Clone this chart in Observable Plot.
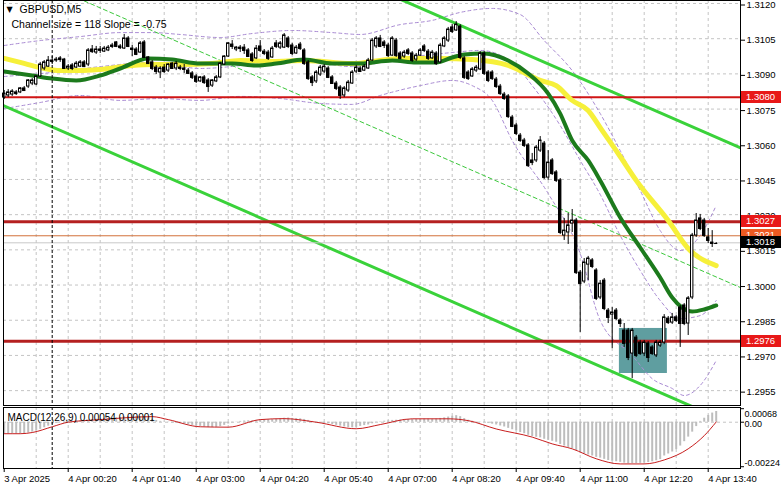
<!DOCTYPE html>
<html><head><meta charset="utf-8">
<script src="https://cdn.jsdelivr.net/npm/d3@7"></script>
<script src="https://cdn.jsdelivr.net/npm/@observablehq/plot@0.6"></script>
<style>
body{margin:0;background:#fff;}
#chart{width:781px;height:489px;overflow:hidden;background:#fff;}
#chart svg{display:block}
</style></head><body><div id="chart"></div>
<script>
const symbolTitle = "GBPUSD,M5";
const channelText = "Channel size = 118 Slope = -0.75";
const macdText = "MACD(12,26,9) 0.00054 0.00001";

const open = [1.30799,1.30808,1.30812,1.30821,1.30821,1.30838,1.30846,1.30859,1.30855,1.30889,1.30923,1.30931,1.30957,1.30957,1.30966,1.30961,1.30923,1.30936,1.30927,1.30931,1.30949,1.30940,1.31004,1.30991,1.31004,1.30995,1.31000,1.31021,1.31034,1.31017,1.31008,1.31051,1.31008,1.31004,1.30991,1.31034,1.30970,1.30949,1.30927,1.30906,1.30927,1.30914,1.30944,1.30923,1.30927,1.30923,1.30914,1.30902,1.30889,1.30868,1.30885,1.30872,1.30850,1.30868,1.30885,1.30940,1.30974,1.31025,1.31004,1.31012,1.31012,1.31000,1.30983,1.30966,1.31017,1.30995,1.30991,1.30970,1.31030,1.31012,1.31012,1.31051,1.31021,1.30987,1.31025,1.31000,1.30949,1.30885,1.30868,1.30897,1.30910,1.30923,1.30885,1.30859,1.30842,1.30808,1.30829,1.30859,1.30910,1.30923,1.30914,1.30923,1.30957,1.31017,1.31051,1.31034,1.31021,1.30978,1.31042,1.30987,1.30974,1.31000,1.30987,1.30961,1.30978,1.31017,1.30995,1.30966,1.30987,1.30949,1.31017,1.31042,1.31098,1.31085,1.31102,1.30966,1.30906,1.30889,1.30914,1.30919,1.30987,1.30906,1.30906,1.30876,1.30846,1.30812,1.30804,1.30714,1.30680,1.30637,1.30616,1.30595,1.30531,1.30531,1.30573,1.30603,1.30458,1.30531,1.30480,1.30446,1.30211,1.30224,1.30262,1.30275,1.30053,1.30015,1.30087,1.30105,1.30062,1.29947,1.30019,1.29891,1.29874,1.29891,1.29849,1.29806,1.29806,1.29708,1.29776,1.29755,1.29708,1.29751,1.29734,1.29700,1.29742,1.29755,1.29857,1.29840,1.29862,1.29904,1.29913,1.29836,1.29947,1.30211,1.30284,1.30275,1.30203,1.30181,1.30177];
const high = [1.30829,1.30833,1.30833,1.30829,1.30842,1.30846,1.30876,1.30880,1.30893,1.30949,1.30957,1.30974,1.30974,1.30970,1.30974,1.30966,1.30940,1.30944,1.30953,1.30957,1.30957,1.31008,1.31021,1.31017,1.31017,1.31017,1.31021,1.31030,1.31038,1.31025,1.31068,1.31059,1.31021,1.31012,1.31038,1.31042,1.30974,1.30957,1.30936,1.30931,1.30940,1.30944,1.30949,1.30953,1.30936,1.30940,1.30923,1.30910,1.30897,1.30889,1.30893,1.30880,1.30876,1.30893,1.30949,1.30978,1.31034,1.31042,1.31017,1.31021,1.31025,1.31008,1.30991,1.31021,1.31042,1.31004,1.31000,1.31017,1.31042,1.31038,1.31072,1.31059,1.31030,1.31021,1.31034,1.31008,1.30957,1.30893,1.30914,1.30936,1.30940,1.30931,1.30893,1.30868,1.30850,1.30846,1.30872,1.30914,1.30936,1.30931,1.30940,1.30966,1.31051,1.31059,1.31064,1.31042,1.31030,1.31059,1.31051,1.30995,1.31000,1.31008,1.30995,1.30987,1.31008,1.31025,1.31004,1.31000,1.30995,1.31030,1.31059,1.31098,1.31110,1.31123,1.31110,1.30974,1.30914,1.30927,1.30936,1.30995,1.30995,1.30914,1.30914,1.30885,1.30855,1.30821,1.30812,1.30723,1.30689,1.30646,1.30625,1.30603,1.30561,1.30595,1.30633,1.30612,1.30573,1.30539,1.30488,1.30454,1.30284,1.30305,1.30322,1.30284,1.30062,1.30113,1.30122,1.30113,1.30070,1.30019,1.30028,1.29900,1.29904,1.29900,1.29857,1.29836,1.29815,1.29815,1.29785,1.29764,1.29764,1.29759,1.29742,1.29764,1.29764,1.29874,1.29866,1.29879,1.29870,1.29913,1.29921,1.29951,1.30220,1.30305,1.30301,1.30284,1.30241,1.30232,1.30181];
const low = [1.30791,1.30799,1.30804,1.30808,1.30816,1.30825,1.30838,1.30850,1.30850,1.30885,1.30914,1.30927,1.30940,1.30949,1.30949,1.30919,1.30914,1.30914,1.30923,1.30927,1.30927,1.30931,1.30987,1.30983,1.30987,1.30991,1.30995,1.31008,1.31012,1.31004,1.31004,1.31012,1.30974,1.30978,1.30987,1.30966,1.30940,1.30914,1.30897,1.30880,1.30902,1.30906,1.30919,1.30914,1.30914,1.30902,1.30897,1.30876,1.30859,1.30863,1.30855,1.30821,1.30842,1.30863,1.30880,1.30936,1.30970,1.31004,1.30995,1.30991,1.30983,1.30970,1.30949,1.30961,1.30991,1.30978,1.30957,1.30966,1.31008,1.31004,1.31008,1.31008,1.30978,1.30983,1.31000,1.30936,1.30872,1.30846,1.30859,1.30889,1.30902,1.30880,1.30855,1.30829,1.30791,1.30799,1.30821,1.30855,1.30902,1.30906,1.30910,1.30919,1.30953,1.31008,1.31012,1.31008,1.30970,1.30974,1.30970,1.30961,1.30966,1.30978,1.30949,1.30953,1.30974,1.30991,1.30957,1.30961,1.30936,1.30944,1.31012,1.31034,1.31072,1.31081,1.30961,1.30876,1.30872,1.30885,1.30906,1.30914,1.30893,1.30863,1.30872,1.30838,1.30808,1.30787,1.30710,1.30671,1.30637,1.30608,1.30586,1.30501,1.30509,1.30522,1.30565,1.30450,1.30446,1.30467,1.30437,1.30215,1.30190,1.30173,1.30224,1.30045,1.29798,1.30006,1.30019,1.30070,1.29934,1.29938,1.29891,1.29836,1.29729,1.29849,1.29819,1.29734,1.29678,1.29601,1.29691,1.29700,1.29695,1.29670,1.29700,1.29691,1.29734,1.29746,1.29832,1.29832,1.29840,1.29734,1.29827,1.29785,1.29938,1.30203,1.30232,1.30203,1.30177,1.30160,1.30173];
const close = [1.30816,1.30821,1.30825,1.30816,1.30838,1.30829,1.30872,1.30872,1.30889,1.30940,1.30949,1.30957,1.30953,1.30961,1.30961,1.30923,1.30931,1.30923,1.30944,1.30949,1.30931,1.31000,1.30995,1.31004,1.31000,1.31008,1.31012,1.31017,1.31017,1.31012,1.31051,1.31017,1.31004,1.30983,1.31030,1.30970,1.30944,1.30923,1.30910,1.30923,1.30910,1.30940,1.30923,1.30944,1.30923,1.30919,1.30902,1.30885,1.30868,1.30885,1.30863,1.30846,1.30872,1.30885,1.30944,1.30974,1.31030,1.31017,1.31012,1.31008,1.31000,1.30974,1.30957,1.31008,1.31000,1.30987,1.30966,1.31008,1.31017,1.31030,1.31064,1.31017,1.30987,1.31012,1.31008,1.30944,1.30880,1.30863,1.30906,1.30927,1.30931,1.30885,1.30859,1.30838,1.30808,1.30838,1.30863,1.30906,1.30927,1.30910,1.30931,1.30957,1.31042,1.31051,1.31017,1.31021,1.30978,1.31051,1.30978,1.30966,1.30991,1.30987,1.30957,1.30978,1.31000,1.31000,1.30966,1.30991,1.30944,1.31021,1.31051,1.31089,1.31081,1.31110,1.30970,1.30885,1.30880,1.30919,1.30927,1.30987,1.30902,1.30872,1.30880,1.30846,1.30816,1.30795,1.30718,1.30676,1.30646,1.30616,1.30595,1.30509,1.30522,1.30586,1.30616,1.30458,1.30522,1.30475,1.30446,1.30224,1.30232,1.30254,1.30275,1.30053,1.30006,1.30096,1.30113,1.30079,1.29943,1.30006,1.29900,1.29862,1.29883,1.29857,1.29836,1.29751,1.29691,1.29806,1.29700,1.29708,1.29755,1.29691,1.29708,1.29755,1.29755,1.29862,1.29840,1.29862,1.29849,1.29836,1.29836,1.29943,1.30211,1.30275,1.30241,1.30211,1.30190,1.30177,1.30177];

const macd = [-0.00059,-0.00059,-0.00059,-0.00059,-0.00059,-0.00057,-0.00054,-0.00050,-0.00045,-0.00036,-0.00028,-0.00020,-0.00012,-0.00006,-0.00001,0.00002,0.00004,0.00005,0.00006,0.00007,0.00007,0.00010,0.00013,0.00015,0.00017,0.00018,0.00019,0.00021,0.00023,0.00024,0.00027,0.00029,0.00028,0.00027,0.00028,0.00027,0.00022,0.00015,0.00009,0.00004,0.00001,-0.00002,-0.00004,-0.00006,-0.00008,-0.00010,-0.00013,-0.00016,-0.00019,-0.00021,-0.00024,-0.00027,-0.00027,-0.00026,-0.00022,-0.00016,-0.00009,-0.00003,0.00001,0.00004,0.00006,0.00007,0.00007,0.00009,0.00011,0.00012,0.00012,0.00013,0.00015,0.00017,0.00020,0.00021,0.00019,0.00018,0.00017,0.00014,0.00009,0.00004,-0.00001,-0.00004,-0.00006,-0.00008,-0.00012,-0.00016,-0.00020,-0.00024,-0.00027,-0.00028,-0.00026,-0.00021,-0.00017,-0.00014,-0.00008,-0.00002,0.00002,0.00005,0.00007,0.00009,0.00010,0.00011,0.00012,0.00013,0.00013,0.00014,0.00015,0.00016,0.00016,0.00015,0.00016,0.00019,0.00022,0.00026,0.00030,0.00033,0.00028,0.00018,0.00010,0.00005,0.00002,0.00001,-0.00002,-0.00006,-0.00010,-0.00014,-0.00019,-0.00024,-0.00031,-0.00038,-0.00045,-0.00052,-0.00058,-0.00066,-0.00072,-0.00076,-0.00079,-0.00086,-0.00091,-0.00096,-0.00101,-0.00112,-0.00120,-0.00127,-0.00133,-0.00143,-0.00155,-0.00161,-0.00165,-0.00170,-0.00177,-0.00181,-0.00187,-0.00193,-0.00197,-0.00199,-0.00202,-0.00206,-0.00209,-0.00208,-0.00208,-0.00207,-0.00205,-0.00203,-0.00199,-0.00194,-0.00188,-0.00170,-0.00160,-0.00150,-0.00138,-0.00120,-0.00098,-0.00075,-0.00050,-0.00022,0.00004,0.00020,0.00034,0.00046,0.00054];

const signalLine = [[0,-0.00058],[4,-0.00058],[7,-0.00052],[12,-0.00023],[16,0.0],[24,0.00013],[30,0.00022],[37,0.00028],[41,0.00013],[49,-0.00023],[56,-0.00025],[64,0.00013],[70,0.00018],[78,0.0],[88,-0.00033],[94,-0.00012],[102,0.00017],[111,0.00017],[116,0.00008],[123,-0.00034],[132,-0.00075],[137,-0.00109],[142,-0.00134],[148,-0.00184],[154,-0.00210],[160,-0.00210],[165,-0.00190],[171,-0.00134],[175,-0.00068],[178,0.00001]];

const yellowMA = [[0,1.30966],[4,1.30949],[9,1.30927],[14,1.30914],[19,1.30914],[24,1.30919],[32,1.30936],[37,1.30940],[44,1.30940],[52,1.30944],[59,1.30957],[67,1.30953],[75,1.30957],[87,1.30944],[99,1.30966],[109,1.30966],[117,1.30961],[126,1.30936],[134,1.30872],[138,1.30850],[142,1.30787],[146,1.30744],[149,1.30671],[154,1.30548],[158,1.30446],[166,1.30275],[171,1.30156],[178,1.30083]];
const greenMA = [[0,1.30910],[7,1.30893],[12,1.30880],[18,1.30872],[24,1.30893],[29,1.30923],[36,1.30966],[42,1.30961],[49,1.30944],[57,1.30944],[63,1.30936],[68,1.30944],[75,1.30961],[82,1.30944],[89,1.30944],[97,1.30957],[103,1.30949],[108,1.30949],[112,1.30970],[115,1.30983],[120,1.30987],[126,1.30957],[131,1.30902],[136,1.30816],[139,1.30731],[142,1.30616],[146,1.30531],[149,1.30446],[154,1.30288],[159,1.30160],[164,1.30032],[167,1.29947],[172,1.29887],[175,1.29896],[178,1.29913]];

const bandUpper = [[0,1.31021],[9,1.31042],[19,1.31059],[29,1.31076],[37,1.31076],[44,1.31068],[54,1.31055],[62,1.31072],[72,1.31085],[82,1.31076],[89,1.31068],[99,1.31110],[107,1.31128],[114,1.31162],[122,1.31179],[129,1.31153],[135,1.31042],[142,1.30914],[149,1.30731],[154,1.30573],[159,1.30403],[164,1.30232],[169,1.30147],[174,1.30211],[178,1.30339]];
const bandMiddle = [[0,1.30889],[12,1.30906],[24,1.30931],[37,1.30949],[49,1.30923],[62,1.30940],[74,1.30957],[87,1.30931],[99,1.30966],[112,1.30991],[119,1.31000],[127,1.30949],[132,1.30850],[139,1.30680],[144,1.30531],[149,1.30386],[154,1.30211],[159,1.30062],[164,1.29934],[169,1.29857],[174,1.29870],[178,1.29934]];
const bandLower = [[0,1.30752],[9,1.30778],[19,1.30808],[29,1.30787],[39,1.30795],[49,1.30787],[59,1.30804],[69,1.30795],[79,1.30774],[87,1.30770],[94,1.30808],[104,1.30850],[112,1.30872],[117,1.30850],[122,1.30787],[127,1.30616],[136,1.30390],[144,1.30134],[149,1.29849],[157,1.29700],[162,1.29601],[167,1.29559],[170,1.29529],[174,1.29572],[178,1.29678]];

const channelUpper = [[95,1.31248],[184.1,1.30585]];
const channelMiddle = [[20,1.31211],[184.1,1.29989]];
const channelLower = [[-0.2,1.30765],[184.1,1.29392]];

const zoneBox = [{b1:153.8, b2:165.8, p1:1.29623, p2:1.29815}];
const levels = [1.3080, 1.3027, 1.2976];
const orderLevel = 1.3021;
const lastPrice = 1.3018;

const priceTicks = [1.3120,1.3105,1.3090,1.3075,1.3060,1.3045,1.3030,1.3015,1.3000,1.2985,1.2970,1.2955];
const timeTickBars = [0,16,32,48,64,80,96,112,128,144,160,176];
const timeLabels = ["3 Apr 2025","4 Apr 00:20","4 Apr 01:40","4 Apr 03:00","4 Apr 04:20","4 Apr 05:40","4 Apr 07:00","4 Apr 08:20","4 Apr 09:40","4 Apr 11:00","4 Apr 12:20","4 Apr 13:40"];
const daySeparatorBar = 12;
const macdTicks = [0.00068, 0, -0.00224];
const macdTickLabels = ["0.00068", "0.00", "-0.00224"];

// ---------- drawing ----------
const FONT = "'Liberation Sans', Arial, sans-serif";
const FS = 9.5;
const W = 781;
const ML = 3, MR = 41;
const xDomain = [-0.175, 184.075];
const gridBars = d3.range(8, 184, 8);
const grid = {stroke: "#c4c4c4", strokeDasharray: "3,3", strokeWidth: 1};

const bars = open.map((o, i) => ({i, o, h: high[i], l: low[i], c: close[i]}));
const upBars = bars.filter(d => d.c >= d.o);
const downBars = bars.filter(d => d.c < d.o);
const lineOpts = (extra) => Object.assign({x: d => d[0], y: d => d[1], clip: true}, extra);

function priceTags(list) {
  return (index, scales, values, dims) => {
    const g = d3.create("svg:g").attr("font-family", FONT).attr("font-size", FS).attr("text-anchor", "start");
    const x0 = dims.width - dims.marginRight + 1;
    for (const t of list) {
      const y = Math.round(scales.y(t.v));
      g.append("rect").attr("x", x0).attr("y", y - 6).attr("width", dims.marginRight).attr("height", 12).attr("fill", t.bg);
      g.append("text").attr("x", x0 + 5).attr("y", y).attr("dy", "0.36em").attr("text-anchor", "start").attr("fill", t.fg).text(t.v.toFixed(4));
    }
    return g.node();
  };
}

const main = Plot.plot({
  width: W, height: 406,
  marginLeft: ML, marginRight: MR, marginTop: 0, marginBottom: 1,
  style: {fontFamily: FONT, fontSize: FS + "px", background: "#fff", color: "#000", overflow: "visible"},
  x: {domain: xDomain, axis: null},
  y: {domain: [1.294866, 1.312128], axis: null},
  marks: [
    Plot.ruleY(priceTicks, grid),
    Plot.ruleX(gridBars, grid),
    Plot.rect(zoneBox, {x1: "b1", x2: "b2", y1: "p1", y2: "p2", fill: "#5f9ea0"}),
    Plot.line(bandUpper, lineOpts({stroke: "#a98bd3", strokeWidth: 1, strokeDasharray: "3,3", curve: "monotone-x"})),
    Plot.line(bandMiddle, lineOpts({stroke: "#a98bd3", strokeWidth: 1, strokeDasharray: "3,3", curve: "monotone-x"})),
    Plot.line(bandLower, lineOpts({stroke: "#a98bd3", strokeWidth: 1, strokeDasharray: "3,3", curve: "monotone-x"})),
    Plot.line(channelMiddle, lineOpts({stroke: "#3cc83c", strokeWidth: 1, strokeDasharray: "4,3"})),
    Plot.line(channelUpper, lineOpts({stroke: "#3ad23a", strokeWidth: 3})),
    Plot.line(channelLower, lineOpts({stroke: "#3ad23a", strokeWidth: 3})),
    Plot.ruleY([lastPrice], {stroke: "#c8c8c8", strokeWidth: 1}),
    Plot.ruleY([orderLevel], {stroke: "#d2703a", strokeWidth: 1}),
    Plot.ruleY([levels[0]], {stroke: "#d01515", strokeWidth: 2}),
    Plot.ruleY(levels.slice(1), {stroke: "#b52020", strokeWidth: 3}),
    Plot.line(yellowMA, lineOpts({stroke: "#f6f03a", strokeWidth: 5, curve: "monotone-x"})),
    Plot.line(greenMA, lineOpts({stroke: "#1c7a1c", strokeWidth: 4, curve: "monotone-x"})),
    Plot.ruleX([daySeparatorBar], {stroke: "#000", strokeDasharray: "3,2", strokeWidth: 1}),
    Plot.ruleX(bars, {x: "i", y1: "l", y2: "h", stroke: "#000", strokeWidth: 1}),
    Plot.rect(upBars, {x1: d => d.i - 0.3, x2: d => d.i + 0.3, y1: "o", y2: "c", fill: "#fff", stroke: "#000", strokeWidth: 1}),
    Plot.rect(downBars, {x1: d => d.i - 0.3, x2: d => d.i + 0.3, y1: "o", y2: "c", fill: "#000", stroke: "#000", strokeWidth: 1}),
    Plot.ruleY(bars, {x1: d => d.i - 0.4, x2: d => d.i + 0.4, y: "c", stroke: "#000", strokeWidth: 1}),
    Plot.frame({stroke: "#000"}),
    Plot.axisY(priceTicks, {anchor: "right", tickFormat: d => d.toFixed(4), tickSize: 4, tickPadding: 2, label: null, fontSize: FS, dy: 1.5}),
    Plot.text(["▼"], {frameAnchor: "top-left", dx: 3, dy: 9, textAnchor: "start", lineAnchor: "middle", fontSize: 8, fontFamily: "DejaVu Sans"}),
    Plot.text([symbolTitle], {frameAnchor: "top-left", dx: 16, dy: 9, textAnchor: "start", lineAnchor: "middle", fontSize: 10.5}),
    Plot.text([channelText], {frameAnchor: "top-left", dx: 8, dy: 24, textAnchor: "start", lineAnchor: "middle", fontSize: 10.5}),
    priceTags([
      {v: levels[0], bg: "#e81818", fg: "#fff"},
      {v: levels[1], bg: "#e81818", fg: "#fff"},
      {v: orderLevel, bg: "#ee5a22", fg: "#fff"},
      {v: lastPrice, bg: "#000", fg: "#fff"},
      {v: levels[2], bg: "#e81818", fg: "#fff"}
    ])
  ]
});

const macdBars = macd.map((v, i) => ({i, v}));
const tickRow = (k, dy) => Plot.text([macdTicks[k]], {y: d => d, frameAnchor: "right", dx: 4, dy, text: () => macdTickLabels[k], textAnchor: "start", fontSize: 9});
const macdPanel = Plot.plot({
  width: W, height: 83,
  marginLeft: ML, marginRight: MR, marginTop: 1, marginBottom: 21,
  style: {fontFamily: FONT, fontSize: FS + "px", background: "#fff", color: "#000", overflow: "visible"},
  x: {domain: xDomain},
  y: {domain: [-0.00233, 0.00074]},
  marks: [
    Plot.ruleX(gridBars, grid),
    Plot.ruleY([0], grid),
    Plot.ruleX(macdBars, {x: "i", y1: 0, y2: "v", stroke: "#bdbdbd", strokeWidth: 2}),
    Plot.line(signalLine, {x: d => d[0], y: d => d[1], stroke: "#c81e1e", strokeWidth: 1, curve: "monotone-x"}),
    Plot.ruleX([daySeparatorBar], {stroke: "#000", strokeDasharray: "3,2", strokeWidth: 1}),
    Plot.frame({stroke: "#000"}),
    Plot.axisY(macdTicks, {anchor: "right", tickFormat: () => "", tickSize: 3, label: null}),
    tickRow(0, 5),
    tickRow(1, 1.5),
    tickRow(2, -4),
    Plot.axisX(timeTickBars, {anchor: "bottom", tickFormat: d => timeLabels[timeTickBars.indexOf(d)], textAnchor: "start", tickSize: 4, tickPadding: 3, label: null, fontSize: FS}),
    Plot.text([macdText], {frameAnchor: "top-left", dx: 4, dy: 10, textAnchor: "start", lineAnchor: "middle", fontSize: 10})
  ]
});

const root = document.getElementById("chart");
root.appendChild(main);
root.appendChild(macdPanel);
</script></body></html>
